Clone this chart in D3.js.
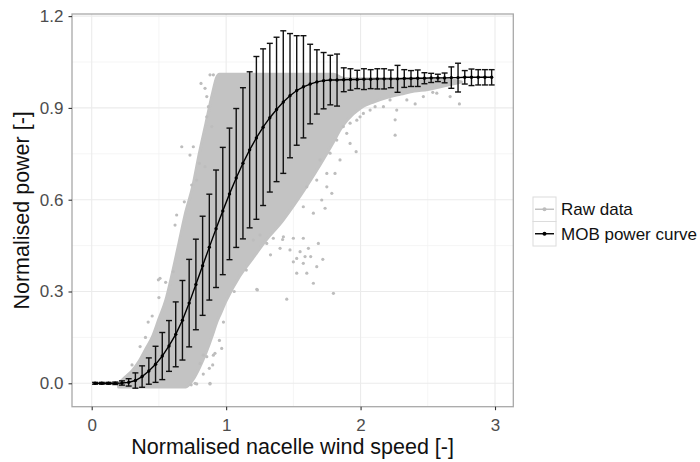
<!DOCTYPE html>
<html>
<head>
<meta charset="utf-8">
<script src="https://cdn.jsdelivr.net/npm/d3@7"></script>
<style>
body { margin: 0; background: #fff; }
text { font-family: "Liberation Sans", Arial, sans-serif; }
</style>
</head>
<body>
<script>
// binned power curve (bin centres, mean, standard deviation)
const binSpeed = [0.025, 0.075, 0.125, 0.175, 0.225, 0.275, 0.325, 0.375, 0.425, 0.475,
  0.525, 0.575, 0.625, 0.675, 0.725, 0.775, 0.825, 0.875, 0.925, 0.975,
  1.025, 1.075, 1.125, 1.175, 1.225, 1.275, 1.325, 1.375, 1.425, 1.475,
  1.525, 1.575, 1.625, 1.675, 1.725, 1.775, 1.825, 1.875, 1.925, 1.975,
  2.025, 2.075, 2.125, 2.175, 2.225, 2.275, 2.325, 2.375, 2.425, 2.475,
  2.525, 2.575, 2.625, 2.675, 2.725, 2.775, 2.825, 2.875, 2.925, 2.975];
const meanPower = [0.000, 0.000, 0.000, 0.000, 0.001, 0.003, 0.009, 0.022, 0.040, 0.062,
  0.089, 0.122, 0.160, 0.206, 0.262, 0.323, 0.384, 0.445, 0.505, 0.563,
  0.619, 0.671, 0.719, 0.763, 0.802, 0.837, 0.868, 0.895, 0.919, 0.940,
  0.957, 0.969, 0.978, 0.985, 0.989, 0.991, 0.991, 0.992, 0.993, 0.993,
  0.994, 0.994, 0.995, 0.995, 0.995, 0.995, 0.996, 0.996, 0.997, 0.997,
  0.998, 0.998, 0.998, 0.999, 0.999, 1.000, 1.000, 1.000, 1.000, 1.000];
const sdPower = [0.003, 0.003, 0.003, 0.004, 0.007, 0.012, 0.025, 0.035, 0.043, 0.059,
  0.077, 0.083, 0.106, 0.130, 0.143, 0.148, 0.162, 0.173, 0.192, 0.208,
  0.215, 0.227, 0.247, 0.255, 0.266, 0.256, 0.243, 0.236, 0.233, 0.203,
  0.179, 0.167, 0.130, 0.105, 0.092, 0.081, 0.085, 0.039, 0.035, 0.030,
  0.034, 0.031, 0.033, 0.033, 0.029, 0.044, 0.029, 0.026, 0.027, 0.018,
  0.015, 0.012, 0.016, 0.035, 0.047, 0.022, 0.027, 0.025, 0.025, 0.025];

// dense part of the raw data cloud: lower and upper edge along wind speed
const cloudSpeed = [0.2, 0.25, 0.3, 0.35, 0.4, 0.45, 0.5, 0.55, 0.6, 0.65, 0.7, 0.75, 0.8, 0.85,
  0.9, 0.93, 0.95, 1.0, 1.1, 1.2, 1.3, 1.4, 1.5, 1.6, 1.7, 1.8, 1.85, 1.9, 2.0, 2.1, 2.2,
  2.3, 2.4, 2.5, 2.6, 2.7, 2.75];
const cloudUpper = [0.0, 0.02, 0.04, 0.07, 0.11, 0.15, 0.21, 0.27, 0.36, 0.46, 0.56, 0.64, 0.75, 0.85,
  0.95, 1.0, 1.01, 1.01, 1.01, 1.01, 1.01, 1.01, 1.01, 1.01, 1.01, 1.01, 1.0, 0.995, 0.995, 0.995, 0.995,
  0.995, 0.995, 0.995, 0.995, 0.99, 0.985];
const cloudLower = [-0.012, -0.012, -0.012, -0.012, -0.012, -0.012, -0.012, -0.012, -0.012, -0.012, -0.012, 0.01, 0.05, 0.1,
  0.16, 0.2, 0.22, 0.27, 0.35, 0.41, 0.47, 0.52, 0.58, 0.645, 0.715, 0.79, 0.83, 0.86, 0.9, 0.92, 0.935,
  0.945, 0.955, 0.96, 0.97, 0.98, 0.985];

// scattered raw points outside the dense cloud
const outlierSpeed = [0.670, 0.756, 0.801, 0.843, 0.731, 0.689, 0.744, 0.781, 0.856, 0.905,
  0.880, 0.813, 0.843, 0.868, 0.856, 0.893, 0.496, 0.607, 0.856, 0.875,
  0.781, 0.880, 0.806, 0.508, 1.451, 0.880, 0.967, 0.905, 1.574, 1.525,
  1.228, 1.798, 1.649, 1.719, 1.587, 1.629, 1.600, 1.525, 1.500, 1.232,
  1.967, 2.257, 2.257, 2.537, 2.735, 2.666, 2.406, 1.786, 1.736, 1.810,
  1.749, 1.897, 1.922, 1.972, 2.021, 2.108, 2.269, 0.769, 0.830, 0.917,
  0.632, 0.620, 0.450, 0.400, 0.550,
  1.202, 1.252, 1.302, 1.351, 1.401, 1.426, 1.475, 1.500, 1.550, 1.574,
  1.612, 1.674, 1.686, 1.600, 1.649, 1.674, 1.699, 1.711, 1.773, 1.823,
  1.847, 1.872, 1.922, 1.996, 2.071, 2.170, 2.219, 2.344, 2.467, 2.567,
  1.749, 1.574, 0.300, 0.360, 0.420, 0.500, 0.740, 0.830, 0.900, 0.950,
  0.980, 1.060, 1.150, 1.330, 1.420];
const outlierPower = [0.773, 0.773, 0.719, 0.708, 0.746, 0.593, 0.648, 0.664, 0.937, 1.008,
  1.008, 0.980, 0.964, 0.904, 0.871, 0.839, 0.338, 0.365, 0.087, 0.049,
  -0.002, -0.002, 0.065, 0.343, 0.275, 0.000, 0.114, 0.092, 0.474, 0.408,
  0.307, 0.294, 0.327, 0.405, 0.414, 0.414, 0.360, 0.360, 0.474, 0.305,
  0.757, 0.811, 0.861, 0.951, 0.913, 0.937, 0.913, 0.621, 0.572, 0.686,
  0.686, 0.817, 0.850, 0.860, 0.882, 0.904, 0.893, 0.000, 0.092, 0.098,
  0.550, 0.517, 0.220, 0.150, 0.330,
  0.468, 0.485, 0.457, 0.474, 0.441, 0.479, 0.436, 0.397, 0.430, 0.392,
  0.441, 0.381, 0.457, 0.642, 0.556, 0.664, 0.730, 0.599, 0.752, 0.795,
  0.730, 0.839, 0.784, 0.871, 0.893, 0.904, 0.926, 0.926, 0.937, 0.948,
  0.642, 0.577, 0.060, 0.120, 0.200, 0.280, -0.005, 0.030, 0.060, 0.140,
  0.200, 0.300, 0.370, 0.420, 0.470];

const xTicks = [0, 1, 2, 3];
const yTicks = [0.0, 0.3, 0.6, 0.9, 1.2];
const xMinor = [0.5, 1.5, 2.5];
const yMinor = [0.15, 0.45, 0.75, 1.05];
const legendLabels = ["Raw data", "MOB power curve"];
const legendColors = ["#bdbdbd", "#000000"];

const W = 700, H = 462;
const panel = {left: 72, right: 513.3, top: 14, bottom: 406.7};
const RAW = "#bdbdbd";

const svg = d3.select("body").append("svg")
  .attr("width", W).attr("height", H);

const x = d3.scaleLinear().domain([-0.1465, 3.136]).range([panel.left, panel.right]);
const y = d3.scaleLinear().domain([-0.0765, 1.2069]).range([panel.bottom, panel.top]);

// grid
const grid = svg.append("g");
grid.selectAll(".vminor").data(xMinor).join("line")
  .attr("x1", d => x(d)).attr("x2", d => x(d))
  .attr("y1", panel.top).attr("y2", panel.bottom)
  .attr("stroke", "#f3f3f3").attr("stroke-width", 0.8);
grid.selectAll(".hminor").data(yMinor).join("line")
  .attr("y1", d => y(d)).attr("y2", d => y(d))
  .attr("x1", panel.left).attr("x2", panel.right)
  .attr("stroke", "#f3f3f3").attr("stroke-width", 0.8);
grid.selectAll(".vmajor").data(xTicks).join("line")
  .attr("x1", d => x(d)).attr("x2", d => x(d))
  .attr("y1", panel.top).attr("y2", panel.bottom)
  .attr("stroke", "#ebebeb").attr("stroke-width", 1.1);
grid.selectAll(".hmajor").data(yTicks).join("line")
  .attr("y1", d => y(d)).attr("y2", d => y(d))
  .attr("x1", panel.left).attr("x2", panel.right)
  .attr("stroke", "#ebebeb").attr("stroke-width", 1.1);

// raw data cloud
const cloud = cloudSpeed.map((s, i) => ({s: s, lo: cloudLower[i], hi: cloudUpper[i]}));
svg.append("path")
  .datum(cloud)
  .attr("fill", "#c3c3c3")
  .attr("stroke", "#c3c3c3")
  .attr("stroke-width", 3)
  .attr("stroke-linejoin", "round")
  .attr("d", d3.area().x(d => x(d.s)).y0(d => y(d.lo)).y1(d => y(d.hi)).curve(d3.curveMonotoneX));

svg.append("g").selectAll("circle")
  .data(outlierSpeed.map((s, i) => [s, outlierPower[i]]))
  .join("circle")
  .attr("cx", d => x(d[0])).attr("cy", d => y(d[1]))
  .attr("r", 1.6).attr("fill", RAW);

// error bars
const curve = binSpeed.map((s, i) => ({s: s, m: meanPower[i], sd: sdPower[i]}));
const capW = 3;
const eb = svg.append("g").attr("stroke", "#111").attr("stroke-width", 1.4);
eb.selectAll(".stem").data(curve).join("line")
  .attr("x1", d => x(d.s)).attr("x2", d => x(d.s))
  .attr("y1", d => y(d.m - d.sd)).attr("y2", d => y(d.m + d.sd));
eb.selectAll(".capTop").data(curve).join("line")
  .attr("x1", d => x(d.s) - capW).attr("x2", d => x(d.s) + capW)
  .attr("y1", d => y(d.m + d.sd)).attr("y2", d => y(d.m + d.sd));
eb.selectAll(".capBot").data(curve).join("line")
  .attr("x1", d => x(d.s) - capW).attr("x2", d => x(d.s) + capW)
  .attr("y1", d => y(d.m - d.sd)).attr("y2", d => y(d.m - d.sd));

// mean curve
svg.append("path")
  .datum(curve)
  .attr("fill", "none").attr("stroke", "#000").attr("stroke-width", 1.4)
  .attr("d", d3.line().x(d => x(d.s)).y(d => y(d.m)));
svg.append("g").selectAll("circle").data(curve).join("circle")
  .attr("cx", d => x(d.s)).attr("cy", d => y(d.m))
  .attr("r", 1.7).attr("fill", "#000");

// panel border
svg.append("rect")
  .attr("x", panel.left).attr("y", panel.top)
  .attr("width", panel.right - panel.left).attr("height", panel.bottom - panel.top)
  .attr("fill", "none").attr("stroke", "#a8a8a8").attr("stroke-width", 1.3);

// axes
const xAxis = svg.append("g")
  .attr("transform", `translate(0,${panel.bottom})`)
  .call(d3.axisBottom(x).tickValues(xTicks).tickFormat(d3.format("d")).tickSize(3.5).tickPadding(5));
const yAxis = svg.append("g")
  .attr("transform", `translate(${panel.left},0)`)
  .call(d3.axisLeft(y).tickValues(yTicks).tickFormat(d3.format(".1f")).tickSize(3.5).tickPadding(5));
[xAxis, yAxis].forEach(a => {
  a.select(".domain").remove();
  a.selectAll(".tick line").attr("stroke", "#333").attr("stroke-width", 1.1);
  a.selectAll(".tick text").attr("fill", "#4d4d4d").style("font-size", "17px");
});
xAxis.selectAll(".tick text").attr("dy", "0.95em");

// axis titles
svg.append("text")
  .attr("x", (panel.left + panel.right) / 2).attr("y", 454)
  .attr("text-anchor", "middle").attr("fill", "#111")
  .style("font-size", "21.5px")
  .text("Normalised nacelle wind speed [-]");
svg.append("text")
  .attr("transform", `translate(29,${(panel.top + panel.bottom) / 2}) rotate(-90)`)
  .attr("text-anchor", "middle").attr("fill", "#111")
  .style("font-size", "21.5px")
  .text("Normalised power [-]");

// legend
const lg = svg.append("g").attr("transform", "translate(533,197)");
const keyW = 23, keyH = 24.5;
legendLabels.forEach((lab, i) => {
  const k = lg.append("g").attr("transform", `translate(0,${i * keyH})`);
  k.append("rect").attr("width", keyW).attr("height", keyH)
    .attr("fill", "#fff").attr("stroke", "#dcdcdc").attr("stroke-width", 1);
  k.append("line").attr("x1", 2).attr("x2", keyW - 2)
    .attr("y1", keyH / 2).attr("y2", keyH / 2)
    .attr("stroke", legendColors[i]).attr("stroke-width", 1.4);
  k.append("circle").attr("cx", keyW / 2).attr("cy", keyH / 2).attr("r", 2)
    .attr("fill", legendColors[i]);
  k.append("text").attr("x", keyW + 5).attr("y", keyH / 2).attr("dy", "0.35em")
    .attr("fill", "#111").style("font-size", "17px").text(lab);
});
</script>
</body>
</html>
